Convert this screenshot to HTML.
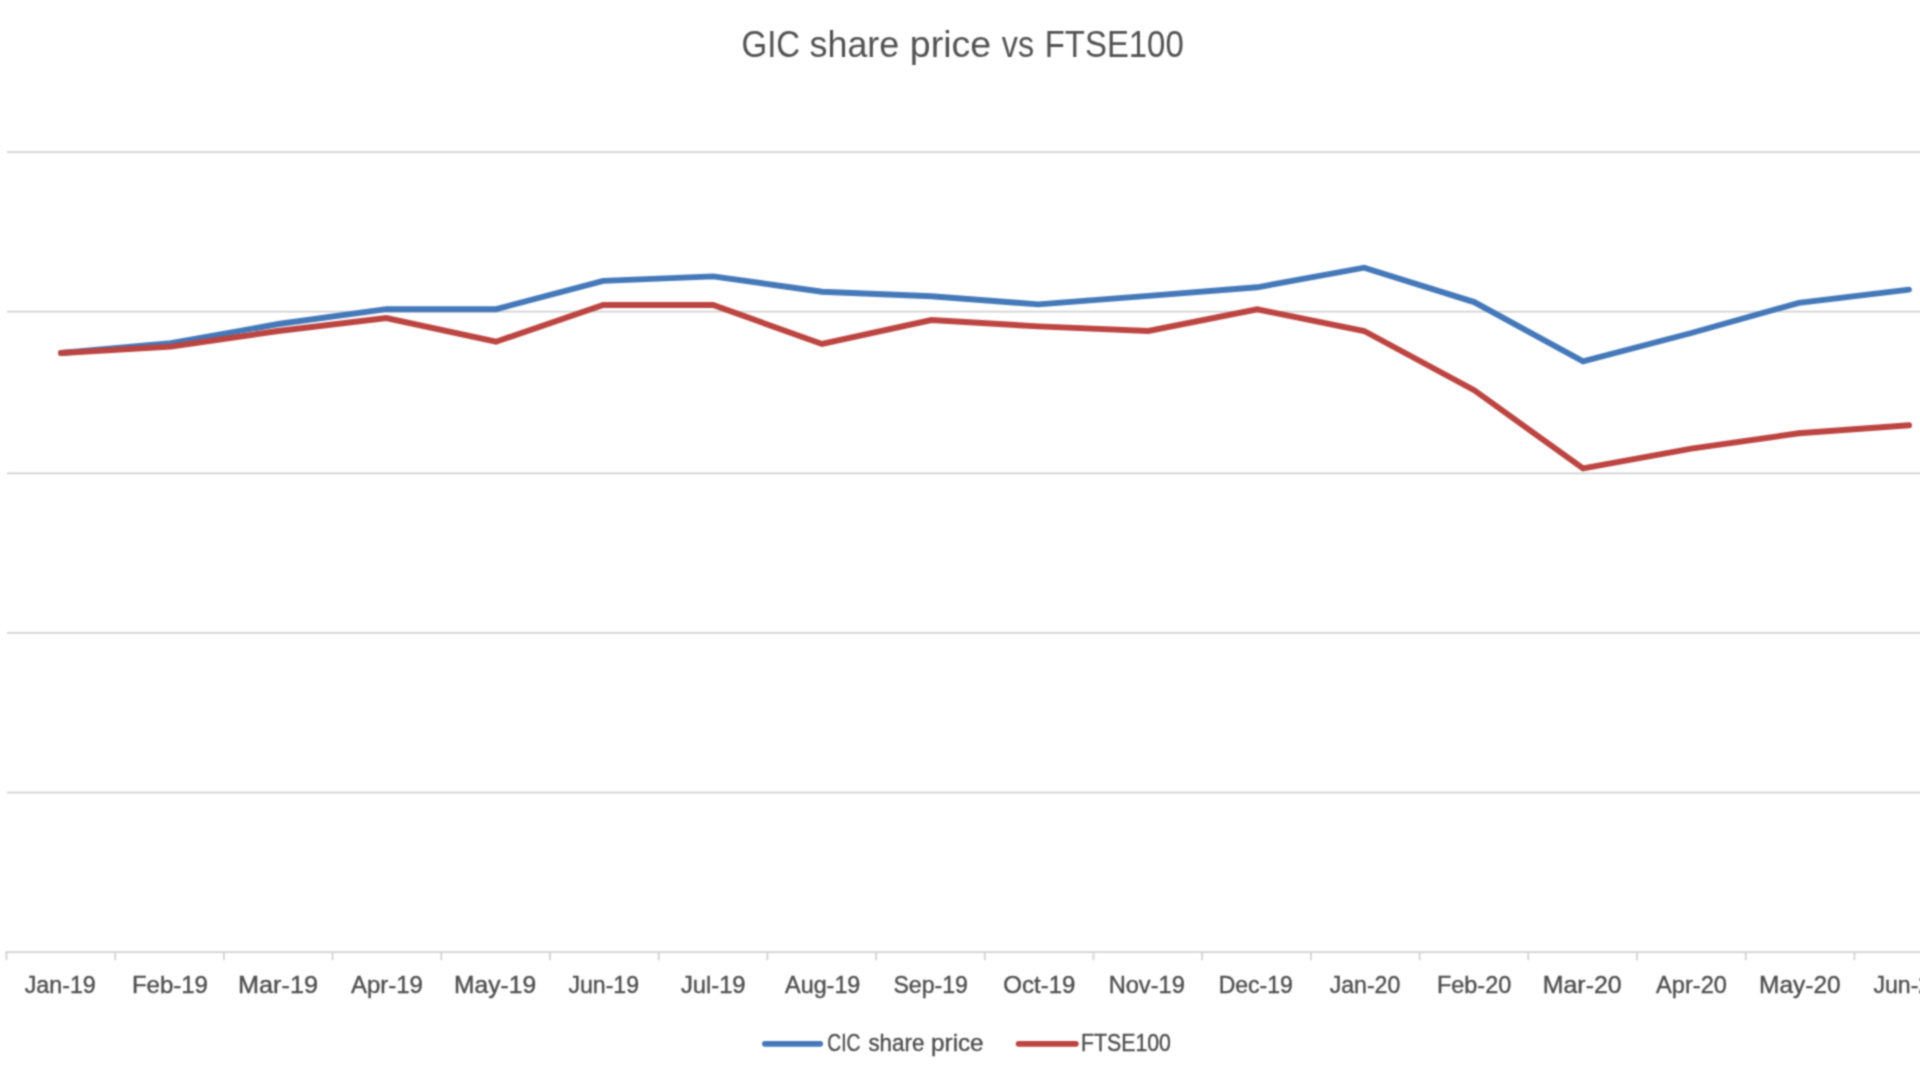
<!DOCTYPE html>
<html lang="en">
<head>
<meta charset="utf-8">
<title>GIC share price vs FTSE100</title>
<style>
html,body{margin:0;padding:0;background:#fff;}
body{width:1920px;height:1080px;overflow:hidden;font-family:"Liberation Sans",sans-serif;}
svg{display:block;overflow:hidden;}
text{font-family:"Liberation Sans",sans-serif;fill:#4e4e4e;stroke:#4e4e4e;stroke-width:0.4;white-space:pre;}
.title{stroke:none;fill:#515151;}
.grid line{stroke:#d2d2d2;stroke-width:1.8;}
.series{fill:none;stroke-width:5.9;stroke-linecap:round;stroke-linejoin:miter;stroke-miterlimit:6;}
</style>
</head>
<body>
<svg width="1920" height="1080" viewBox="0 0 1920 1080">
<rect width="1920" height="1080" fill="#ffffff"/>
<defs>
<filter id="soft" filterUnits="userSpaceOnUse" x="-10" y="-10" width="1940" height="1100" color-interpolation-filters="sRGB">
<feConvolveMatrix order="5" kernelMatrix="0.00025 0.00352 0.00834 0.00352 0.00025 0.00352 0.04908 0.11634 0.04908 0.00352 0.00834 0.11634 0.27577 0.11634 0.00834 0.00352 0.04908 0.11634 0.04908 0.00352 0.00025 0.00352 0.00834 0.00352 0.00025" divisor="1" edgeMode="none" preserveAlpha="false"/>
</filter>
</defs>
<g filter="url(#soft)">
<g class="grid">
<line x1="6.9" y1="152.05" x2="1940" y2="152.05"/>
<line x1="6.9" y1="311.65" x2="1940" y2="311.65"/>
<line x1="6.9" y1="473.35" x2="1940" y2="473.35"/>
<line x1="6.9" y1="632.95" x2="1940" y2="632.95"/>
<line x1="6.9" y1="792.55" x2="1940" y2="792.55"/>
<line x1="5.6" y1="952.1" x2="1940" y2="952.1"/>
<line x1="6.50" y1="952.1" x2="6.50" y2="960.2"/>
<line x1="115.20" y1="952.1" x2="115.20" y2="960.2"/>
<line x1="223.90" y1="952.1" x2="223.90" y2="960.2"/>
<line x1="332.60" y1="952.1" x2="332.60" y2="960.2"/>
<line x1="441.30" y1="952.1" x2="441.30" y2="960.2"/>
<line x1="550.00" y1="952.1" x2="550.00" y2="960.2"/>
<line x1="658.70" y1="952.1" x2="658.70" y2="960.2"/>
<line x1="767.40" y1="952.1" x2="767.40" y2="960.2"/>
<line x1="876.10" y1="952.1" x2="876.10" y2="960.2"/>
<line x1="984.80" y1="952.1" x2="984.80" y2="960.2"/>
<line x1="1093.50" y1="952.1" x2="1093.50" y2="960.2"/>
<line x1="1202.20" y1="952.1" x2="1202.20" y2="960.2"/>
<line x1="1310.90" y1="952.1" x2="1310.90" y2="960.2"/>
<line x1="1419.60" y1="952.1" x2="1419.60" y2="960.2"/>
<line x1="1528.30" y1="952.1" x2="1528.30" y2="960.2"/>
<line x1="1637.00" y1="952.1" x2="1637.00" y2="960.2"/>
<line x1="1745.70" y1="952.1" x2="1745.70" y2="960.2"/>
<line x1="1854.40" y1="952.1" x2="1854.40" y2="960.2"/>
</g>
<text class="title" y="56.6" font-size="36.3"><tspan x="741.53" textLength="58.66" lengthAdjust="spacingAndGlyphs">GIC</tspan> <tspan x="809.61" textLength="89.56" lengthAdjust="spacingAndGlyphs">share</tspan> <tspan x="909.78" textLength="81.36" lengthAdjust="spacingAndGlyphs">price</tspan> <tspan x="1001.85" textLength="32.2" lengthAdjust="spacingAndGlyphs">vs</tspan> <tspan x="1044.78" textLength="138.92" lengthAdjust="spacingAndGlyphs">FTSE100</tspan></text>
<g font-size="24.5">
<text x="24.65" y="992.55" textLength="71.12" lengthAdjust="spacingAndGlyphs">Jan-19</text>
<text x="131.89" y="992.55" textLength="76.12" lengthAdjust="spacingAndGlyphs">Feb-19</text>
<text x="238.04" y="992.55" textLength="80.02" lengthAdjust="spacingAndGlyphs">Mar-19</text>
<text x="351.1" y="992.55" textLength="71.81" lengthAdjust="spacingAndGlyphs">Apr-19</text>
<text x="454.09" y="992.55" textLength="82.02" lengthAdjust="spacingAndGlyphs">May-19</text>
<text x="568.41" y="992.55" textLength="70.61" lengthAdjust="spacingAndGlyphs">Jun-19</text>
<text x="680.88" y="992.55" textLength="64.7" lengthAdjust="spacingAndGlyphs">Jul-19</text>
<text x="785.1" y="992.55" textLength="75.27" lengthAdjust="spacingAndGlyphs">Aug-19</text>
<text x="893.41" y="992.55" textLength="74.45" lengthAdjust="spacingAndGlyphs">Sep-19</text>
<text x="1003.37" y="992.55" textLength="72.03" lengthAdjust="spacingAndGlyphs">Oct-19</text>
<text x="1108.67" y="992.55" textLength="76.18" lengthAdjust="spacingAndGlyphs">Nov-19</text>
<text x="1218.72" y="992.55" textLength="74.1" lengthAdjust="spacingAndGlyphs">Dec-19</text>
<text x="1329.66" y="992.55" textLength="70.61" lengthAdjust="spacingAndGlyphs">Jan-20</text>
<text x="1436.94" y="992.55" textLength="74.33" lengthAdjust="spacingAndGlyphs">Feb-20</text>
<text x="1542.77" y="992.55" textLength="78.85" lengthAdjust="spacingAndGlyphs">Mar-20</text>
<text x="1656.1" y="992.55" textLength="70.83" lengthAdjust="spacingAndGlyphs">Apr-20</text>
<text x="1759.11" y="992.55" textLength="81.5" lengthAdjust="spacingAndGlyphs">May-20</text>
<text x="1873.41" y="992.55" textLength="70.61" lengthAdjust="spacingAndGlyphs">Jun-20</text>
</g>
<polyline class="series sb" stroke="#4478b9" points="61.05,353.00 170.95,343.20 278.25,324.00 386.30,309.20 496.00,309.20 603.15,280.90 713.10,276.40 822.00,291.70 931.35,296.20 1038.40,304.40 1148.35,295.90 1257.25,287.30 1364.15,267.70 1474.20,302.10 1583.05,361.30 1691.35,333.00 1798.85,302.80 1909.05,289.60"/>
<polyline class="series sr" stroke="#bc4441" points="61.05,353.00 170.95,346.60 278.25,331.00 386.30,318.10 496.00,341.70 603.15,305.00 713.10,305.00 822.00,344.00 931.35,320.00 1038.40,326.40 1148.35,331.00 1257.25,309.30 1364.15,331.00 1474.20,390.20 1583.05,468.40 1691.35,448.60 1798.85,433.30 1909.05,425.25"/>
<g font-size="24.5">
<line class="series" stroke="#4478b9" style="stroke-width:5.7" x1="764.9" y1="1043.8" x2="820.2" y2="1043.8"/>
<text y="1051.4"><tspan x="827.32" textLength="33.02" lengthAdjust="spacingAndGlyphs">CIC</tspan> <tspan x="868.44" textLength="55.89" lengthAdjust="spacingAndGlyphs">share</tspan> <tspan x="931.12" textLength="52.47" lengthAdjust="spacingAndGlyphs">price</tspan></text>
<line class="series" stroke="#bc4441" style="stroke-width:5.7" x1="1018.6" y1="1043.8" x2="1075.9" y2="1043.8"/>
<text y="1051.4"><tspan x="1080.96" textLength="89.99" lengthAdjust="spacingAndGlyphs">FTSE100</tspan></text>
</g>
</g>
</svg>
</body>
</html>
